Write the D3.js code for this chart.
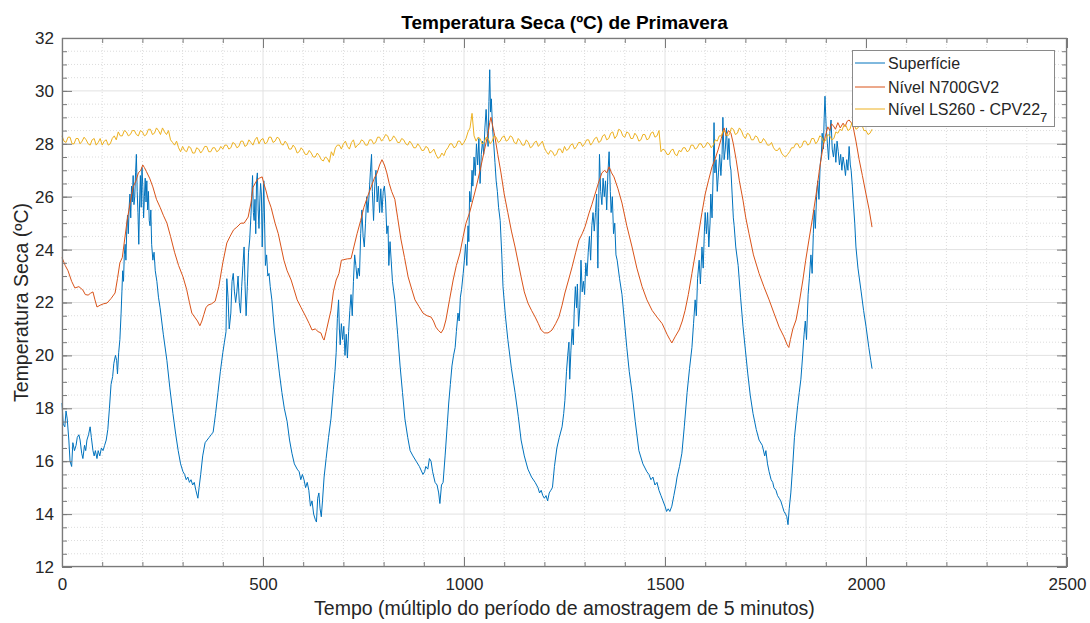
<!DOCTYPE html>
<html>
<head>
<meta charset="utf-8">
<script src="https://cdn.jsdelivr.net/npm/d3@7"></script>
<style>
  html, body { margin: 0; padding: 0; background: #fff; }
  svg { display: block; font-family: "Liberation Sans", Arial, Helvetica, sans-serif; }
</style>
</head>
<body>
<svg id="chart" width="1090" height="623"></svg>
<script>
// ---------------- DATA ----------------
const titleText = "Temperatura Seca (ºC) de Primavera";
const xLabelText = "Tempo (múltiplo do período de amostragem de 5 minutos)";
const yLabelText = "Temperatura Seca (ºC)";
const seriesNames = ["Superfície", "Nível N700GV2", "Nível LS260 - CPV22"];
const seriesSubscript = ["", "", "7"];

const xTicks = [0, 500, 1000, 1500, 2000, 2500];
const yTicks = [12, 14, 16, 18, 20, 22, 24, 26, 28, 30, 32];
const xMinorTicks = d3.range(0, 2501, 100);
const yMinorTicks = d3.range(12, 32.01, 0.5);

// Superfície: [sample, °C]
const superficie = [
[0,18.2],[3,17.4],[7,17.3],[10,17.9],[13,17.6],[17,16.8],[20,16.0],[24,15.8],[27,16.7],[31,16.4],[35,16.6],[38,16.9],[42,17.0],[45,16.8],[49,16.3],[52,16.1],[56,16.6],[59,16.4],[62,16.8],[66,17.0],[70,17.3],[73,16.9],[77,16.4],[80,16.2],[83,16.4],[87,16.1],[90,16.4],[94,16.2],[98,16.5],[102,16.4],[106,16.6],[110,16.8],[114,17.2],[118,18.0],[122,18.9],[126,19.2],[129,19.7],[133,20.0],[136,19.8],[138,19.3],[141,20.1],[144,20.6],
[147,21.6],[149,22.4],[151,23.2],[153,22.8],[155,23.8],[157,24.2],[159,23.6],[161,24.7],[163,25.3],[165,24.6],[167,25.6],[169,26.1],[171,25.2],[173,26.4],[175,25.8],[177,26.8],[179,25.7],[181,26.0],[183,26.9],[185,27.6],[187,26.2],[189,25.4],[191,24.2],[193,25.8],[195,26.8],[197,25.6],[199,27.1],[201,26.4],[203,25.2],[205,26.0],[207,26.7],[209,25.8],[211,26.6],[213,25.5],[215,26.2],[217,25.1],[219,24.9],[221,25.5],[223,24.2],[226,23.6],[229,23.9],[232,23.2],[236,22.8],[240,22.2],[244,21.8],
[252,20.8],[261,19.8],[268,18.8],[276,17.8],[283,17.0],[289,16.4],[295,15.9],[301,15.6],[305,15.5],[309,15.3],[313,15.4],[317,15.2],[321,15.3],[325,15.1],[329,15.2],[333,14.9],[338,14.6],[341,15.0],[345,15.5],[350,16.2],[356,16.7],[361,16.8],[366,16.9],[371,17.0],[376,17.1],[382,17.8],[388,18.6],[394,19.4],[400,20.1],[404,20.5],[408,20.9],
[410,22.9],[413,22.2],[416,21.0],[420,21.6],[423,22.8],[426,23.1],[429,22.4],[432,22.0],[435,22.4],[438,23.0],[441,22.0],[444,21.6],[447,22.6],[450,23.4],[453,24.1],[455,22.8],[458,21.5],[461,22.6],[464,23.9],[467,24.4],[470,25.3],[472,26.0],[474,26.8],[476,25.4],[478,25.1],[480,25.9],[482,24.6],[484,26.6],[486,26.9],[488,25.5],[490,24.8],[492,25.8],[494,26.5],[496,26.1],[498,24.1],[500,25.4],[502,26.6],[504,25.0],[506,23.4],[509,23.8],[512,23.0],[515,23.1],[518,22.6],[522,22.1],
[528,21.0],[535,20.1],[541,19.3],[547,18.6],[553,18.0],[560,17.5],[566,16.8],[572,16.3],[578,15.9],[585,15.7],[590,15.6],[594,15.3],[598,15.5],[602,15.3],[606,15.0],[610,15.2],[614,14.9],[618,14.3],[622,14.5],[626,14.0],[630,13.8],[633,13.7],[636,14.6],[639,14.8],[642,14.2],[645,13.9],[648,14.5],[652,15.4],[657,16.1],[663,16.9],[669,17.6],[675,18.7],[679,19.4],[682,20.1],
[685,21.4],[688,22.1],[690,21.0],[692,20.4],[695,21.2],[698,20.6],[701,21.1],[704,20.0],[707,20.8],[710,19.9],[713,20.9],[716,21.7],[719,22.3],[722,21.5],[725,22.8],[728,23.8],[731,23.4],[734,22.9],[737,23.3],[740,23.0],[743,24.6],[746,25.5],[749,24.5],[752,24.1],[755,25.0],[758,26.0],[761,25.4],[764,26.1],[767,26.9],[770,27.6],[772,26.2],[775,25.1],[778,26.4],[781,27.0],[784,25.8],[787,26.4],[790,25.4],[793,26.3],[796,25.4],[799,26.2],[802,26.4],[805,25.8],[808,24.6],[811,24.9],[813,23.4],[816,24.3],
[822,22.8],[828,22.1],[835,20.8],[841,19.6],[847,18.6],[853,17.6],[860,16.9],[866,16.4],[873,16.2],[881,16.0],[889,15.8],[898,15.5],[902,15.6],[905,15.8],[910,15.7],[914,16.1],[918,16.0],[922,15.6],[928,15.2],[933,15.1],[937,14.8],[940,14.4],[944,15.1],[948,15.2],[953,16.2],[958,17.3],[962,18.2],[966,18.9],[970,19.6],[974,20.0],[978,20.3],[981,20.9],[985,21.6],[988,21.3],[991,22.2],[994,22.5],[998,23.1],[1001,23.6],[1004,24.2],[1007,23.4],[1010,24.9],[1012,24.3],[1014,26.2],[1017,25.8],[1020,27.0],[1022,26.4],[1025,27.5],[1028,26.8],[1031,28.0],[1034,27.2],[1037,28.2],[1040,26.5],[1043,27.6],[1046,28.1],[1049,27.6],[1052,28.6],[1055,29.3],[1058,28.4],[1060,27.9],[1062,29.6],[1064,30.8],[1066,29.2],[1068,29.7],[1071,28.6],[1074,28.0],[1077,27.3],[1080,26.6],[1083,26.2],[1086,25.6],[1090,25.1],
[1094,23.8],[1097,22.6],[1103,21.5],[1109,20.6],[1118,19.5],[1127,18.6],[1135,17.7],[1142,16.8],[1150,16.2],[1159,15.7],[1168,15.4],[1177,15.2],[1184,15.0],[1188,14.8],[1192,14.9],[1196,14.7],[1200,14.6],[1204,14.7],[1208,14.5],[1212,14.8],[1216,14.9],[1220,15.0],
[1225,15.8],[1231,16.5],[1237,16.9],[1244,17.3],[1248,17.8],[1251,18.3],[1255,19.4],[1258,20.0],[1261,20.5],[1263,19.1],[1266,20.2],[1269,21.0],[1272,20.4],[1274,21.6],[1277,22.6],[1280,21.8],[1282,22.7],[1285,21.1],[1288,21.8],[1291,23.6],[1294,22.4],[1297,22.8],[1300,22.3],[1303,23.5],[1306,23.0],[1309,23.9],[1312,24.5],[1315,23.6],[1318,24.9],[1321,25.4],[1324,24.7],[1327,25.4],[1330,26.1],[1333,23.3],[1335,25.6],[1337,27.6],[1340,26.2],[1343,25.7],[1346,26.7],[1349,26.0],[1352,26.6],[1355,25.5],[1358,26.9],[1361,27.7],[1364,26.2],[1366,25.4],[1369,26.0],[1372,24.6],[1375,25.0],[1378,23.8],[1381,23.6],
[1387,22.9],[1393,22.3],[1399,21.3],[1405,20.3],[1411,19.4],[1418,18.6],[1426,17.5],[1435,16.4],[1445,15.9],[1455,15.6],[1460,15.5],[1465,15.3],[1470,15.4],[1475,15.1],[1480,15.2],[1485,14.9],[1490,14.7],[1495,14.5],[1500,14.3],[1504,14.1],[1508,14.2],[1512,14.1],[1517,14.3],[1522,14.7],[1527,15.1],[1530,15.4],[1536,15.8],[1542,16.3],[1548,17.3],[1555,18.6],[1561,19.5],[1567,20.3],[1571,21.2],[1575,22.1],[1578,21.5],[1581,22.9],[1585,23.6],[1588,22.7],[1592,24.1],[1595,23.3],[1598,24.7],[1600,25.4],[1603,24.6],[1606,25.4],[1609,24.1],[1612,25.0],[1614,26.1],[1617,25.2],[1620,27.0],[1622,28.8],[1624,26.9],[1627,27.4],[1630,26.2],[1633,26.9],[1636,27.6],[1639,26.8],[1642,27.6],[1644,29.0],[1647,27.4],[1650,27.8],[1653,28.6],[1656,27.4],[1659,28.2],[1662,27.2],[1664,27.0],[1667,26.1],[1670,25.2],[1672,24.9],[1676,24.1],[1682,23.4],
[1688,22.2],[1694,21.1],[1700,20.2],[1706,19.3],[1712,18.5],[1719,17.8],[1727,17.2],[1734,16.8],[1742,16.6],[1748,16.2],[1751,16.4],[1755,15.9],[1759,15.6],[1764,15.3],[1768,15.2],[1771,15.0],[1776,14.9],[1780,14.7],[1784,14.6],[1788,14.5],[1792,14.3],[1796,14.1],[1800,14.0],[1803,13.9],[1806,13.6],[1809,14.2],[1813,14.8],[1818,15.9],[1822,16.9],[1826,17.5],[1830,18.1],[1834,18.6],[1838,19.1],[1842,19.9],[1846,20.8],[1849,21.3],[1852,20.6],[1856,22.3],[1859,22.9],[1863,23.8],[1866,23.1],[1869,24.6],[1871,25.5],[1874,24.8],[1877,26.0],[1880,26.6],[1883,25.9],[1886,27.2],[1889,27.6],[1891,28.4],[1894,27.8],[1896,29.0],[1898,29.8],[1901,28.6],[1904,28.0],[1907,27.4],[1910,28.4],[1913,28.9],[1916,27.8],[1919,27.5],[1922,28.0],[1925,27.3],[1928,28.1],[1931,27.7],[1934,27.2],[1937,27.6],[1940,27.0],[1943,27.5],[1946,27.2],[1949,26.8],[1952,27.4],[1955,27.0],[1958,27.9],[1961,27.2],[1963,27.0],[1966,26.4],[1968,25.9],[1972,25.0],[1975,24.1],[1980,23.3],[1988,22.4],[1994,21.7],[2000,21.1],[2007,20.3],[2012,19.8],[2015,19.5]
];

// Nível N700GV2: [sample, °C]
const nivelN700 = [
[0,23.7],[8,23.4],[15,23.2],[24,22.8],[32,22.55],[42,22.6],[52,22.47],[58,22.3],[65,22.28],[71,22.35],[77,22.4],[82,22.1],[87,21.83],[95,21.9],[103,21.95],[112,21.98],[122,22.15],[132,22.36],[138,22.9],[144,23.5],[150,23.7],[156,24.4],[162,25.1],[170,25.8],[177,26.37],[184,26.6],[190,26.9],[196,27.0],[201,27.2],[205,27.1],[210,26.95],[218,26.7],[226,26.37],[235,25.9],[244,25.6],[252,25.3],[261,25.0],[270,24.5],[280,23.9],[290,23.4],[301,22.97],[310,22.5],[317,22.0],[323,21.6],[330,21.45],[337,21.3],[343,21.12],[348,21.3],[353,21.55],[358,21.8],[363,21.9],[372,21.95],[381,22.05],[390,22.6],[400,23.5],[410,24.25],[418,24.5],[427,24.75],[435,24.85],[445,25.0],[453,25.0],[463,25.23],[470,25.76],[475,26.35],[485,26.63],[491,26.7],[498,26.75],[502,26.5],[507,26.25],[513,25.9],[520,25.6],[530,25.0],[538,24.6],[545,24.1],[552,23.6],[560,23.2],[570,22.85],[577,22.5],[585,22.1],[595,21.8],[607,21.45],[615,21.2],[622,20.96],[630,21.0],[637,20.9],[644,20.85],[649,20.65],[652,20.58],[657,20.9],[663,21.3],[669,21.7],[675,22.4],[682,22.85],[689,23.1],[695,23.6],[701,23.62],[710,23.65],[719,23.66],[726,24.1],[734,24.6],[743,25.1],[751,25.6],[760,26.0],[769,26.37],[777,26.7],[784,26.9],[790,27.2],[796,27.4],[802,27.2],[808,26.9],[814,26.5],[820,26.2],[828,25.9],[835,25.2],[843,24.4],[852,23.7],[861,22.97],[870,22.5],[878,22.1],[888,21.85],[898,21.6],[908,21.5],[918,21.45],[924,21.3],[930,21.07],[936,20.95],[943,20.85],[949,21.0],[955,21.34],[964,22.1],[973,22.85],[981,23.4],[990,23.87],[998,24.5],[1005,25.0],[1014,25.4],[1022,25.87],[1031,26.4],[1040,27.0],[1050,27.7],[1060,28.4],[1064,28.8],[1067,29.0],[1071,28.7],[1077,28.26],[1084,27.6],[1092,26.9],[1100,26.1],[1109,25.4],[1118,24.7],[1127,24.1],[1135,23.5],[1142,22.97],[1150,22.4],[1159,21.98],[1168,21.7],[1177,21.45],[1185,21.2],[1192,20.96],[1200,20.85],[1209,20.85],[1214,20.9],[1219,20.96],[1228,21.2],[1236,21.45],[1244,21.9],[1251,22.36],[1260,22.85],[1269,23.35],[1278,23.9],[1286,24.36],[1294,24.6],[1301,24.86],[1311,25.38],[1318,25.7],[1326,26.1],[1334,26.5],[1343,26.9],[1350,27.0],[1355,26.9],[1361,27.13],[1367,26.9],[1373,26.75],[1383,26.3],[1393,25.76],[1405,24.9],[1418,24.1],[1430,23.3],[1443,22.6],[1455,22.1],[1468,21.7],[1480,21.45],[1493,21.2],[1505,20.8],[1512,20.6],[1517,20.47],[1525,20.7],[1535,20.96],[1543,21.3],[1550,21.7],[1558,22.3],[1567,23.1],[1576,23.9],[1585,24.74],[1592,25.4],[1600,26.1],[1608,26.6],[1617,27.13],[1624,27.4],[1632,27.77],[1640,28.2],[1647,28.6],[1652,28.3],[1658,28.5],[1664,28.4],[1670,28.0],[1677,27.4],[1685,26.6],[1694,25.87],[1701,25.2],[1709,24.6],[1720,23.8],[1734,23.1],[1746,22.6],[1759,22.1],[1771,21.6],[1784,21.07],[1796,20.7],[1804,20.4],[1808,20.3],[1812,20.6],[1818,21.0],[1826,21.34],[1834,22.0],[1843,22.85],[1850,23.6],[1858,24.36],[1867,25.2],[1876,26.1],[1884,27.0],[1893,27.88],[1899,28.3],[1905,28.64],[1910,28.5],[1914,28.75],[1918,28.7],[1924,28.55],[1930,28.8],[1936,28.6],[1943,28.78],[1948,28.65],[1953,28.85],[1958,28.9],[1963,28.8],[1968,28.64],[1975,28.1],[1983,27.4],[1991,26.8],[2000,26.1],[2008,25.5],[2015,24.85]
];

// Nível LS260 - CPV22_7: one value every 5 samples, starting at sample 0
const nivelLS260Step = 5;
const nivelLS260 = [
28.3,28.1,28.05,28.25,28.25,28.0,28.0,28.2,28.2,28.0,28.1,28.25,28.15,28.0,27.95,28.15,28.2,27.95,28.05,28.2,
27.95,28.1,28.15,27.95,28.0,28.2,28.3,28.15,28.45,28.3,28.3,28.5,28.45,28.3,28.35,28.5,28.5,28.35,28.3,28.5,
28.45,28.3,28.35,28.55,28.55,28.35,28.4,28.6,28.5,28.35,28.6,28.45,28.35,28.5,28.15,28.05,27.95,28.1,27.85,27.7,
27.9,27.75,27.7,27.9,27.85,27.65,27.65,27.85,27.8,27.65,27.75,27.9,27.9,27.7,27.7,27.85,27.85,27.7,27.75,27.9,
27.8,27.95,27.95,27.8,27.85,28.05,28.0,27.85,27.9,28.1,28.1,27.9,27.95,28.15,28.05,27.95,28.15,28.25,28.0,28.15,
28.2,28.0,28.05,28.25,28.25,28.05,28.1,28.25,28.2,28.0,27.95,28.1,28.0,27.8,27.8,27.95,27.85,27.65,27.7,27.85,
27.75,27.6,27.6,27.75,27.65,27.5,27.5,27.65,27.55,27.4,27.35,27.5,27.45,27.3,27.7,27.55,27.85,27.95,27.95,27.8,
28.0,28.1,27.9,27.8,28.05,28.15,27.85,27.95,28.0,28.15,28.1,27.95,27.95,28.15,28.15,28.0,28.05,28.25,28.25,28.1,
28.2,28.35,28.3,28.1,28.15,28.3,28.2,28.05,28.05,28.2,28.15,28.0,27.95,28.1,28.0,27.85,27.85,28.0,27.9,27.75,
27.75,27.9,27.85,27.65,27.7,27.8,27.6,27.45,27.5,27.65,27.55,27.75,27.85,28.0,28.0,27.85,27.9,28.1,28.1,27.95,
28.05,28.2,28.45,28.6,29.15,28.3,28.1,28.25,28.2,28.0,28.05,28.25,28.2,28.0,28.1,28.3,28.25,28.05,28.1,28.25,
28.3,28.1,28.15,28.3,28.25,28.05,28.0,28.2,28.1,27.95,27.95,28.15,28.05,27.85,27.9,28.05,28.1,27.9,28.0,28.1,
27.85,27.7,27.6,27.75,27.7,27.55,27.6,27.8,27.8,27.65,27.9,27.75,27.8,27.95,28.0,27.8,27.9,28.05,28.05,27.9,
28.0,28.15,28.15,27.95,28.05,28.2,28.25,28.05,28.1,28.3,28.35,28.15,28.2,28.4,28.45,28.2,28.3,28.55,28.5,28.3,
28.25,28.45,28.4,28.2,28.2,28.4,28.3,28.1,28.15,28.35,28.35,28.15,28.2,28.4,28.45,28.25,28.3,28.5,27.7,27.8,
27.75,27.6,27.6,27.75,27.8,27.6,27.55,27.75,27.7,27.85,27.85,27.7,27.75,27.95,27.95,27.8,27.85,28.0,28.0,27.85,
27.9,28.05,28.0,27.85,27.95,28.15,28.1,28.3,28.3,28.5,28.45,28.3,28.35,28.6,28.55,28.35,28.4,28.6,28.5,28.3,
28.2,28.4,28.35,28.15,28.15,28.3,28.25,28.05,28.05,28.2,28.1,27.95,27.95,28.05,27.85,27.75,27.75,27.85,27.65,27.55,
27.5,27.6,27.7,27.85,27.85,28.0,28.0,27.85,27.9,28.1,28.1,27.95,28.0,28.2,28.2,28.0,28.1,28.3,28.25,28.05,
28.15,28.35,28.3,28.15,28.2,28.45,28.4,28.55,28.5,28.7,28.7,28.5,28.55,28.8,28.75,28.55,28.6,28.75,28.7,28.5,
28.5,28.35,28.4,28.55
];

const seriesColors = ["#0072BD", "#D95319", "#EDB120"];

// ---------------- LAYOUT ----------------
const svg = d3.select("#chart");
const L = 62, R = 1067, T = 38, B = 567;
const textColor = "#262626";
const axisColor = "#7a7a7a";
const fontFam = '"Liberation Sans", Arial, Helvetica, sans-serif';

const x = d3.scaleLinear().domain([0, 2500]).range([L, R]);
const y = d3.scaleLinear().domain([12, 32]).range([B, T]);

svg.append("rect").attr("x", L).attr("y", T).attr("width", R - L).attr("height", B - T).attr("fill", "#fff");

// minor grid (dotted)
const gMinor = svg.append("g");
gMinor.selectAll("line.vx").data(xMinorTicks.filter(v => v % 500 !== 0)).join("line")
  .attr("x1", d => x(d)).attr("x2", d => x(d)).attr("y1", T).attr("y2", B)
  .attr("stroke", "#dcdcdc").attr("stroke-width", 1).attr("stroke-dasharray", "1,2");
gMinor.selectAll("line.hy").data(yMinorTicks.filter(v => Math.abs(v % 2) > 1e-9)).join("line")
  .attr("x1", L).attr("x2", R).attr("y1", d => y(d)).attr("y2", d => y(d))
  .attr("stroke", "#dcdcdc").attr("stroke-width", 1).attr("stroke-dasharray", "1,2");

// major grid (solid)
const gMajor = svg.append("g");
gMajor.selectAll("line.v").data(xTicks).join("line")
  .attr("x1", d => x(d)).attr("x2", d => x(d)).attr("y1", T).attr("y2", B)
  .attr("stroke", "#e2e2e2").attr("stroke-width", 1);
gMajor.selectAll("line.h").data(yTicks).join("line")
  .attr("x1", L).attr("x2", R).attr("y1", d => y(d)).attr("y2", d => y(d))
  .attr("stroke", "#e2e2e2").attr("stroke-width", 1);

// ---------------- LINES ----------------
const line = d3.line().x(d => x(d[0])).y(d => y(d[1]));
const ls260Pairs = nivelLS260.map((v, i) => [i * nivelLS260Step, v]);
const allSeries = [superficie, nivelN700, ls260Pairs];

const gLines = svg.append("g");
allSeries.forEach((s, i) => {
  gLines.append("path").datum(s)
    .attr("d", line)
    .attr("fill", "none")
    .attr("stroke", seriesColors[i])
    .attr("stroke-width", 1)
    .attr("stroke-linejoin", "round");
});

// ---------------- AXES ----------------
function styleAxis(g) {
  g.select(".domain").remove();
  g.selectAll(".tick line").attr("stroke", axisColor);
  g.selectAll(".tick text").attr("fill", textColor)
    .style("font-size", "17px")
    .style("font-family", fontFam);
}

svg.append("g").attr("transform", `translate(0,${B})`)
  .call(d3.axisBottom(x).tickValues(xTicks).tickSize(-10).tickPadding(11).tickFormat(d3.format("d")))
  .call(styleAxis);
svg.append("g").attr("transform", `translate(0,${B})`)
  .call(d3.axisBottom(x).tickValues(xMinorTicks).tickSize(-5).tickFormat(""))
  .call(styleAxis);
svg.append("g").attr("transform", `translate(0,${T})`)
  .call(d3.axisTop(x).tickValues(xTicks).tickSize(-10).tickFormat(""))
  .call(styleAxis);
svg.append("g").attr("transform", `translate(0,${T})`)
  .call(d3.axisTop(x).tickValues(xMinorTicks).tickSize(-5).tickFormat(""))
  .call(styleAxis);

svg.append("g").attr("transform", `translate(${L},0)`)
  .call(d3.axisLeft(y).tickValues(yTicks).tickSize(-10).tickPadding(8).tickFormat(d3.format("d")))
  .call(styleAxis);
svg.append("g").attr("transform", `translate(${L},0)`)
  .call(d3.axisLeft(y).tickValues(yMinorTicks).tickSize(-5).tickFormat(""))
  .call(styleAxis);
svg.append("g").attr("transform", `translate(${R},0)`)
  .call(d3.axisRight(y).tickValues(yTicks).tickSize(-10).tickFormat(""))
  .call(styleAxis);
svg.append("g").attr("transform", `translate(${R},0)`)
  .call(d3.axisRight(y).tickValues(yMinorTicks).tickSize(-5).tickFormat(""))
  .call(styleAxis);

// box
svg.append("rect").attr("x", L + 0.5).attr("y", T + 0.5).attr("width", R - L - 1).attr("height", B - T - 1)
  .attr("fill", "none").attr("stroke", axisColor).attr("stroke-width", 1.3);

// ---------------- TEXT ----------------
svg.append("text").attr("x", (L + R) / 2).attr("y", 29)
  .attr("text-anchor", "middle").attr("fill", "#000")
  .style("font-size", "19px").style("font-weight", "bold")
  .text(titleText);

svg.append("text").attr("x", (L + R) / 2).attr("y", 615)
  .attr("text-anchor", "middle").attr("fill", textColor)
  .style("font-size", "19.5px")
  .text(xLabelText);

svg.append("text")
  .attr("transform", `translate(28,${(T + B) / 2}) rotate(-90)`)
  .attr("text-anchor", "middle").attr("fill", textColor)
  .style("font-size", "19.5px")
  .text(yLabelText);

// ---------------- LEGEND ----------------
const lg = svg.append("g");
lg.append("rect").attr("x", 852.5).attr("y", 50.5).attr("width", 202).attr("height", 76)
  .attr("fill", "#fff").attr("stroke", "#8a8a8a").attr("stroke-width", 1);
const rowY = [63, 87, 109];
seriesNames.forEach((name, i) => {
  lg.append("line").attr("x1", 855).attr("x2", 885).attr("y1", rowY[i]).attr("y2", rowY[i])
    .attr("stroke", seriesColors[i]).attr("stroke-width", 1);
  const t = lg.append("text").attr("x", 888).attr("y", rowY[i] + 6)
    .attr("fill", textColor).style("font-size", "16px").text(name);
  if (seriesSubscript[i]) {
    t.append("tspan").attr("dy", 7).style("font-size", "13px").text(seriesSubscript[i]);
  }
});
</script>
</body>
</html>
